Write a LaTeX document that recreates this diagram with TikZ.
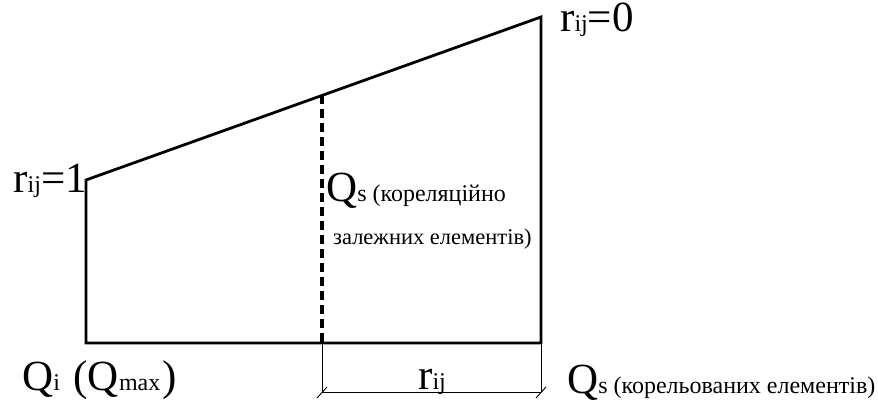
\documentclass[tikz,border=0pt]{standalone}
\usepackage{fontspec}
\setmainfont{Liberation Serif}
\newfontfamily\tnr{Liberation Serif}
\usetikzlibrary{calc,positioning}
\newcommand{\bigtxt}{\tnr\fontsize{43}{46}\selectfont}
\newcommand{\smtxt}{\tnr\fontsize{24}{28}\selectfont}
\newcommand{\notetxt}{\tnr\fontsize{22.5}{27}\selectfont}
\tikzset{
  wall/.style={line width=2.8pt,line join=miter},
  dimln/.style={line width=0.9pt},
  lbl/.style={inner sep=0pt,font=\bigtxt}
}

\begin{document}
\begin{tikzpicture}[x=1pt,y=-1pt]
\useasboundingbox (0,0) rectangle (878,403);
\coordinate (A) at (86,343); \coordinate (B) at (541,343);
\coordinate (C) at (541,17); \coordinate (D) at (86,180);
\coordinate (M) at ($(D)!0.5187!(C)$);
\coordinate (N) at (M |- A);
\draw[wall] (A)--(B)--(C)--(D)--cycle;
\draw[wall,line width=3.2pt,dash pattern=on 9pt off 5pt] (M)--(N);
% dimension r_ij
\coordinate (N1) at ($(N)+(0,49)$); \coordinate (B1) at ($(B)+(0,49)$);
\draw[dimln] (N)--(N1) (B)--(B1) (N1)--(B1);
\draw[dimln] ($(N1)+(-5,6)$)--($(N1)+(5,-5)$);
\draw[dimln] ($(B1)+(-5,6)$)--($(B1)+(5,-5)$);
% labels
\node[lbl,anchor=base west] (r0) at (560,32) {r{\smtxt ij}=0};
\node[lbl,anchor=base east] (r1) at (87,193) {r{\smtxt ij}=1};
\node[lbl,anchor=base west] (qk) at (326,202) {Q{\smtxt s (кореляційно}};
\node[anchor=base west,inner sep=0pt,font=\notetxt] (qz) at (333,245) {залежних елементів)};
\node[lbl,anchor=base west] (qi) at (22,390) {Q{\smtxt i}\ \hspace{3pt}(Q{\smtxt max}\hspace{2pt})};
\node[lbl,anchor=base west] (rd) at (418,389) {r{\smtxt ij}};
\node[lbl,anchor=base west] (qs) at (567,393) {Q{\smtxt s (корельованих елементів)}};
\end{tikzpicture}
\end{document}
